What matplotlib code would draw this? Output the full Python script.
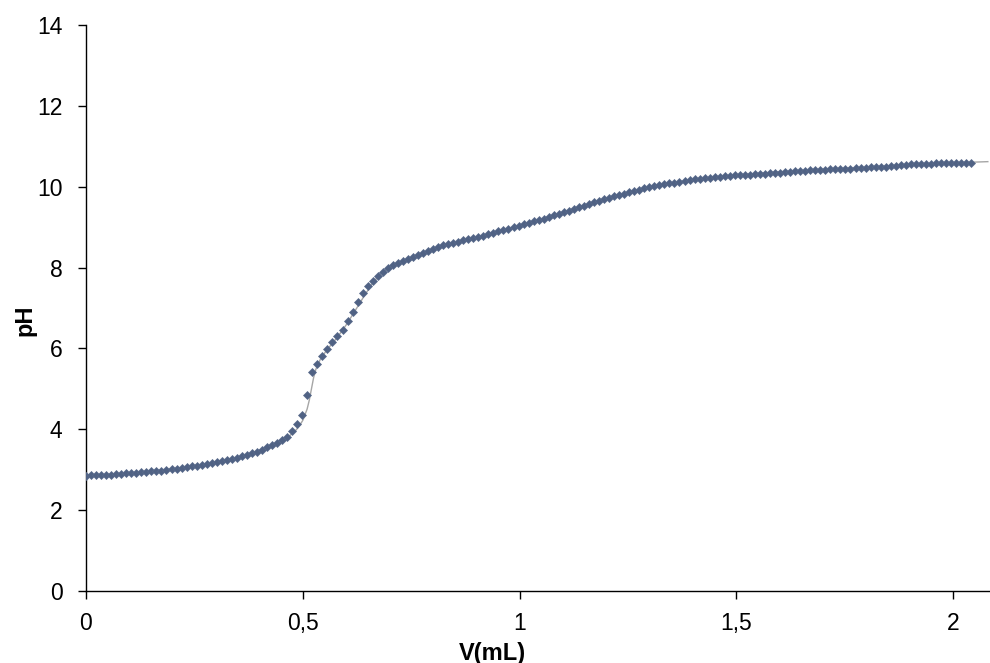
import matplotlib
matplotlib.use("Agg")
import matplotlib.pyplot as plt

plt.rcParams['font.family'] = ['Liberation Sans', 'DejaVu Sans']

# Titration volume (mL) for each measured point
volume_ml = [
    0.0000, 0.0116, 0.0232, 0.0348, 0.0464, 0.0580, 0.0696, 0.0812, 0.0928, 0.1044,
    0.1160, 0.1276, 0.1392, 0.1508, 0.1624, 0.1740, 0.1856, 0.1972, 0.2088, 0.2204,
    0.2320, 0.2436, 0.2552, 0.2668, 0.2784, 0.2900, 0.3016, 0.3132, 0.3248, 0.3364,
    0.3480, 0.3596, 0.3712, 0.3828, 0.3944, 0.4060, 0.4176, 0.4292, 0.4408, 0.4524,
    0.4640, 0.4756, 0.4872, 0.4988, 0.5104, 0.5220, 0.5336, 0.5452, 0.5568, 0.5684,
    0.5800, 0.5916, 0.6032, 0.6148, 0.6264, 0.6380, 0.6496, 0.6612, 0.6728, 0.6844,
    0.6960, 0.7076, 0.7192, 0.7308, 0.7424, 0.7540, 0.7656, 0.7772, 0.7888, 0.8004,
    0.8120, 0.8236, 0.8352, 0.8468, 0.8584, 0.8700, 0.8816, 0.8932, 0.9048, 0.9164,
    0.9280, 0.9396, 0.9512, 0.9628, 0.9744, 0.9860, 0.9976, 1.0092, 1.0208, 1.0324,
    1.0440, 1.0556, 1.0672, 1.0788, 1.0904, 1.1020, 1.1136, 1.1252, 1.1368, 1.1484,
    1.1600, 1.1716, 1.1832, 1.1948, 1.2064, 1.2180, 1.2296, 1.2412, 1.2528, 1.2644,
    1.2760, 1.2876, 1.2992, 1.3108, 1.3224, 1.3340, 1.3456, 1.3572, 1.3688, 1.3804,
    1.3920, 1.4036, 1.4152, 1.4268, 1.4384, 1.4500, 1.4616, 1.4732, 1.4848, 1.4964,
    1.5080, 1.5196, 1.5312, 1.5428, 1.5544, 1.5660, 1.5776, 1.5892, 1.6008, 1.6124,
    1.6240, 1.6356, 1.6472, 1.6588, 1.6704, 1.6820, 1.6936, 1.7052, 1.7168, 1.7284,
    1.7400, 1.7516, 1.7632, 1.7748, 1.7864, 1.7980, 1.8096, 1.8212, 1.8328, 1.8444,
    1.8560, 1.8676, 1.8792, 1.8908, 1.9024, 1.9140, 1.9256, 1.9372, 1.9488, 1.9604,
    1.9720, 1.9836, 1.9952, 2.0068, 2.0184, 2.0300, 2.0416,
]

# Measured pH (markers)
ph_measured = [
    2.85, 2.86, 2.86, 2.87, 2.88, 2.88, 2.89, 2.90, 2.91, 2.92,
    2.93, 2.94, 2.95, 2.96, 2.97, 2.98, 2.99, 3.01, 3.02, 3.04,
    3.06, 3.08, 3.10, 3.12, 3.14, 3.17, 3.19, 3.21, 3.24, 3.27,
    3.30, 3.33, 3.37, 3.41, 3.45, 3.50, 3.55, 3.60, 3.66, 3.73,
    3.82, 3.95, 4.12, 4.35, 4.85, 5.42, 5.62, 5.82, 5.98, 6.16,
    6.30, 6.45, 6.68, 6.90, 7.14, 7.38, 7.55, 7.67, 7.78, 7.90,
    7.99, 8.06, 8.12, 8.17, 8.22, 8.27, 8.31, 8.36, 8.42, 8.47,
    8.51, 8.55, 8.58, 8.61, 8.64, 8.67, 8.70, 8.73, 8.76, 8.79,
    8.83, 8.86, 8.90, 8.93, 8.96, 9.00, 9.03, 9.07, 9.10, 9.14,
    9.18, 9.21, 9.25, 9.29, 9.33, 9.37, 9.41, 9.45, 9.49, 9.53,
    9.57, 9.61, 9.65, 9.69, 9.73, 9.77, 9.80, 9.83, 9.86, 9.89,
    9.93, 9.97, 10.00, 10.02, 10.04, 10.06, 10.08, 10.10, 10.12, 10.14,
    10.16, 10.18, 10.19, 10.21, 10.22, 10.24, 10.25, 10.26, 10.27, 10.28,
    10.29, 10.29, 10.30, 10.31, 10.31, 10.32, 10.33, 10.34, 10.35, 10.36,
    10.37, 10.38, 10.39, 10.40, 10.41, 10.41, 10.42, 10.42, 10.43, 10.43,
    10.44, 10.44, 10.45, 10.46, 10.46, 10.47, 10.48, 10.48, 10.49, 10.50,
    10.51, 10.52, 10.53, 10.54, 10.55, 10.55, 10.56, 10.57, 10.57, 10.58,
    10.58, 10.59, 10.59, 10.59, 10.59, 10.59, 10.59,
]

# Thin gray curve (smoothed trace)
line_v = [0.00, 0.10, 0.20, 0.30, 0.35, 0.40, 0.44, 0.46, 0.48, 0.49, 0.50,
          0.51, 0.515, 0.52, 0.525, 0.53, 0.54, 0.55, 0.56, 0.58, 0.60, 0.62,
          0.64, 0.66, 0.68, 0.70, 0.72, 0.74, 0.77, 0.80, 0.85, 0.90, 1.00,
          1.10, 1.20, 1.25, 1.30, 1.35, 1.40, 1.45, 1.50, 1.60, 1.70, 1.80,
          1.90, 2.00, 2.08]
line_ph = [2.85, 2.92, 3.02, 3.19, 3.30, 3.48, 3.64, 3.76, 3.93, 4.05, 4.22,
           4.50, 4.72, 5.00, 5.28, 5.48, 5.72, 5.88, 6.02, 6.28, 6.58, 6.92,
           7.27, 7.60, 7.86, 8.00, 8.10, 8.19, 8.33, 8.47, 8.62, 8.75, 9.03,
           9.37, 9.71, 9.86, 9.99, 10.09, 10.17, 10.24, 10.29, 10.37, 10.43,
           10.48, 10.55, 10.59, 10.62]

x_ticks = [0, 0.5, 1, 1.5, 2]
x_tick_labels = ['0', '0,5', '1', '1,5', '2']
y_ticks = [0, 2, 4, 6, 8, 10, 12, 14]

fig = plt.figure(figsize=(9.9, 6.63), dpi=100)
ax = fig.add_axes([86 / 990, 72 / 663, 904 / 990, 566 / 663])

ax.plot(line_v, line_ph, color='#a6a6a6', lw=1.0, zorder=2)
ax.plot(volume_ml, ph_measured, linestyle='none', marker='D', markersize=4.3,
        markerfacecolor='#506284', markeredgecolor='#5a6b8c', markeredgewidth=0.5,
        zorder=3)

ax.set_xlim(0, 2.085)
ax.set_ylim(0, 14)
ax.set_xticks(x_ticks)
ax.set_xticklabels(x_tick_labels)
ax.set_yticks(y_ticks)

for side in ['top', 'right']:
    ax.spines[side].set_visible(False)
for side in ['left', 'bottom']:
    ax.spines[side].set_linewidth(1.0)
    ax.spines[side].set_color('black')

ax.tick_params(axis='both', direction='out', length=6, width=1.0,
               labelsize=16.5, colors='black')
ax.tick_params(axis='y', pad=11)
ax.tick_params(axis='x', pad=9)

ax.set_xlabel('V(mL)', fontsize=17, fontweight='bold')
ax.set_ylabel('pH', fontsize=17, fontweight='bold')
ax.xaxis.set_label_coords(0.45, -0.090)
ax.yaxis.set_label_coords(-0.055, 0.479)

fig.savefig('out.png', dpi=100, facecolor='white')
